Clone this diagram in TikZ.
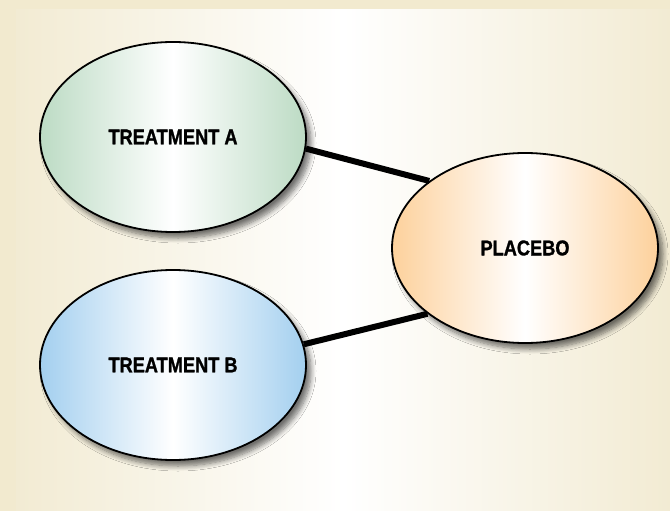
\documentclass[tikz,border=0pt]{standalone}
\usepackage{fontspec}
\setmainfont{Liberation Sans}[FakeStretch=0.85, BoldFeatures={FakeBold=1.2}]
\usetikzlibrary{shapes.geometric,shadows.blur}
\definecolor{bgbeige}{HTML}{F2EACF}
\definecolor{panbeige}{HTML}{F2EBD3}
\definecolor{greenA}{HTML}{BCDBC4}
\definecolor{blueB}{HTML}{A3CFEF}
\definecolor{orangeP}{HTML}{FDD19C}
\tikzset{
  oval/.style={ellipse, draw=black, line width=1.8bp, minimum width=266bp, minimum height=190bp, inner sep=0pt,
    blur shadow={shadow xshift=5bp, shadow yshift=-6bp, shadow blur steps=8, shadow blur radius=5bp, shadow opacity=55},
    font=\bfseries\fontsize{21.5}{26}\selectfont},
  link/.style={line width=6bp, black}
}
\begin{document}
\begin{tikzpicture}[x=1bp,y=-1bp]
\useasboundingbox (0,0) rectangle (670,511);
\fill[bgbeige] (0,0) rectangle (670,511);
\shade[left color=panbeige, right color=panbeige, middle color=white] (16,10) rectangle (670,511);
\node[oval, left color=greenA, right color=greenA, middle color=white] (A) at (173,137) {\raisebox{-2bp}{TREATMENT A}};
\node[oval, left color=blueB, right color=blueB, middle color=white] (B) at (173,365) {TREATMENT B};
\node[oval, left color=orangeP, right color=orangeP, middle color=white] (P) at (525,248) {PLACEBO};
\draw[link] (A.-5) -- (P.145);
\draw[link] (B.9) -- (P.214);
\end{tikzpicture}
\end{document}
